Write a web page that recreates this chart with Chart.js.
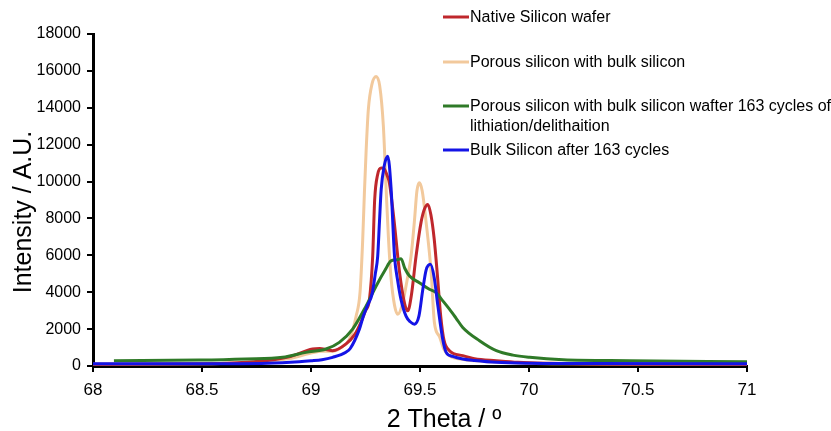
<!DOCTYPE html>
<html>
<head>
<meta charset="utf-8">
<script src="https://cdn.jsdelivr.net/npm/chart.js@4"></script>
<style>
  html, body { margin: 0; padding: 0; background: #fff; }
  canvas { display: block; }
</style>
</head>
<body>
<canvas id="xrd" width="831" height="431"></canvas>
<script>
// ---- DATA ----
const xTicks = [68, 68.5, 69, 69.5, 70, 70.5, 71];
const xTickLabels = ['68', '68.5', '69', '69.5', '70', '70.5', '71'];
const yTicks = [0, 2000, 4000, 6000, 8000, 10000, 12000, 14000, 16000, 18000];
const yTickLabels = ['0', '2000', '4000', '6000', '8000', '10000', '12000', '14000', '16000', '18000'];

const seriesLabels = [
  ['Native Silicon wafer'],
  ['Porous silicon with bulk silicon'],
  ['Porous silicon with bulk silicon wafter 163 cycles of', 'lithiation/delithaition'],
  ['Bulk Silicon after 163 cycles']
];

// Native Silicon wafer (red)
const nativeTheta = [68.0, 68.5, 68.8, 68.9, 69.007, 69.04, 69.07, 69.099, 69.161, 69.2, 69.23, 69.25, 69.268, 69.283, 69.292, 69.306, 69.322, 69.335, 69.35, 69.36, 69.38, 69.406, 69.429, 69.444, 69.46, 69.482, 69.505, 69.52, 69.536, 69.55, 69.565, 69.58, 69.595, 69.61, 69.635, 69.696, 69.75, 69.85, 69.95, 70.1, 70.5, 71.0];
const nativeInt   = [100, 120, 300, 500, 920, 950, 900, 830, 1200, 1700, 2400, 3000, 3600, 5960, 9000, 10400, 10740, 10700, 10300, 9900, 8000, 5100, 3400, 2990, 3800, 5960, 7800, 8500, 8760, 8200, 6900, 4900, 2700, 1400, 830, 560, 400, 290, 200, 150, 100, 100];

// Porous silicon with bulk silicon (tan)
const porousTheta = [68.0, 68.5, 68.8, 68.9, 69.0, 69.05, 69.1, 69.15, 69.176, 69.207, 69.225, 69.237, 69.245, 69.253, 69.263, 69.28, 69.299, 69.315, 69.332, 69.345, 69.355, 69.367, 69.383, 69.398, 69.42, 69.44, 69.459, 69.474, 69.486, 69.497, 69.51, 69.528, 69.551, 69.566, 69.589, 69.61, 69.635, 69.7, 69.8, 69.9, 70.0, 70.2, 70.5, 71.0];
const porousInt   = [100, 120, 250, 400, 700, 800, 800, 1100, 1450, 2700, 4000, 6800, 9400, 11700, 13900, 15300, 15700, 15200, 13000, 9500, 7000, 4800, 3300, 2800, 3400, 4600, 5960, 7800, 9500, 9930, 9500, 7800, 5100, 2360, 1600, 900, 560, 350, 250, 200, 150, 120, 100, 100];

// Porous silicon after 163 cycles (green)
const cycledTheta = [68.096, 68.487, 68.7, 68.87, 68.977, 69.069, 69.13, 69.191, 69.253, 69.299, 69.34, 69.367, 69.39, 69.413, 69.43, 69.452, 69.497, 69.543, 69.574, 69.6, 69.635, 69.665, 69.696, 69.773, 69.85, 69.926, 70.003, 70.156, 70.462, 71.0];
const cycledInt   = [290, 320, 380, 470, 740, 920, 1280, 2000, 3260, 4340, 5200, 5700, 5750, 5820, 5300, 4880, 4520, 4160, 3980, 3600, 3080, 2600, 2090, 1370, 830, 590, 470, 340, 290, 230];

// Bulk Silicon after 163 cycles (blue)
const bulkTheta = [68.0, 68.5, 68.8, 68.946, 69.0, 69.05, 69.099, 69.16, 69.18, 69.222, 69.24, 69.26, 69.28, 69.295, 69.306, 69.314, 69.322, 69.335, 69.352, 69.367, 69.383, 69.398, 69.413, 69.436, 69.455, 69.475, 69.495, 69.513, 69.528, 69.548, 69.565, 69.582, 69.604, 69.62, 69.65, 69.696, 69.75, 69.85, 70.0, 70.3, 71.0];
const bulkInt   = [120, 120, 150, 230, 280, 340, 470, 750, 950, 2000, 2700, 3300, 3900, 5000, 5960, 7800, 9570, 10800, 11370, 9700, 5960, 4600, 3600, 2700, 2400, 2270, 2700, 4160, 5200, 5510, 4800, 3260, 1460, 740, 520, 380, 300, 200, 150, 130, 120];

const seriesColors = ['#BF272C', '#F2C99C', '#2F7A28', '#1414E6'];

const toXY = (xs, ys) => xs.map((x, i) => ({ x, y: ys[i] }));

const FONT = "'Liberation Sans', Arial, Helvetica, sans-serif";

// ---- LEGEND + AXIS TITLES (drawn in the plot like the original) ----
const overlayPlugin = {
  id: 'overlay',
  afterDraw(chart) {
    const ctx = chart.ctx;
    ctx.save();
    // legend
    const rowsY = [17, 62, 106, 150];
    ctx.font = '16px ' + FONT;
    ctx.fillStyle = '#000';
    ctx.textBaseline = 'middle';
    ctx.textAlign = 'left';
    chart.data.datasets.forEach((ds, i) => {
      const y = rowsY[i];
      ctx.strokeStyle = ds.borderColor;
      ctx.lineWidth = 3;
      ctx.beginPath();
      ctx.moveTo(443, y);
      ctx.lineTo(469, y);
      ctx.stroke();
      seriesLabels[i].forEach((line, j) => ctx.fillText(line, 470, y + 1 + j * 20));
    });
    // axis titles
    ctx.font = '25px ' + FONT;
    ctx.textAlign = 'center';
    ctx.fillText('2 Theta / º', 444, 420);
    ctx.translate(24, 212);
    ctx.rotate(-Math.PI / 2);
    ctx.fillText('Intensity / A.U.', 0, 0);
    ctx.restore();
  }
};

const axisCommon = {
  grid: { display: true, drawOnChartArea: false, drawTicks: true, tickLength: 6, color: '#000', lineWidth: 2 },
  border: { display: true, color: '#000', width: 3 },
  title: { display: false }
};

new Chart(document.getElementById('xrd'), {
  type: 'line',
  data: {
    datasets: [
      { label: seriesLabels[0].join(' '), data: toXY(nativeTheta, nativeInt), borderColor: seriesColors[0], order: 2 },
      { label: seriesLabels[1].join(' '), data: toXY(porousTheta, porousInt), borderColor: seriesColors[1], order: 3 },
      { label: seriesLabels[2].join(' '), data: toXY(cycledTheta, cycledInt), borderColor: seriesColors[2], order: 1 },
      { label: seriesLabels[3].join(' '), data: toXY(bulkTheta, bulkInt), borderColor: seriesColors[3], order: 0 }
    ]
  },
  options: {
    responsive: false,
    animation: false,
    devicePixelRatio: 1,
    layout: { padding: { top: 34, right: 84, left: 0, bottom: 0 } },
    elements: {
      line: { borderWidth: 3, cubicInterpolationMode: 'monotone', fill: false },
      point: { radius: 0 }
    },
    scales: {
      x: {
        ...axisCommon,
        type: 'linear',
        min: 68,
        max: 71,
        afterBuildTicks: (s) => { s.ticks = xTicks.map(v => ({ value: v })); },
        afterFit: (s) => { s.height = 65; },
        ticks: {
          color: '#000',
          font: { family: FONT, size: 17 },
          padding: 8,
          maxRotation: 0,
          callback: (v, i) => xTickLabels[i]
        }
      },
      y: {
        ...axisCommon,
        min: 0,
        max: 18000,
        afterBuildTicks: (s) => { s.ticks = yTicks.map(v => ({ value: v })); },
        afterFit: (s) => { s.width = 93; },
        ticks: {
          color: '#000',
          font: { family: FONT, size: 16 },
          padding: 6,
          callback: (v, i) => yTickLabels[i]
        }
      }
    },
    plugins: {
      legend: { display: false },
      tooltip: { enabled: false }
    }
  },
  plugins: [overlayPlugin]
});
</script>
</body>
</html>
